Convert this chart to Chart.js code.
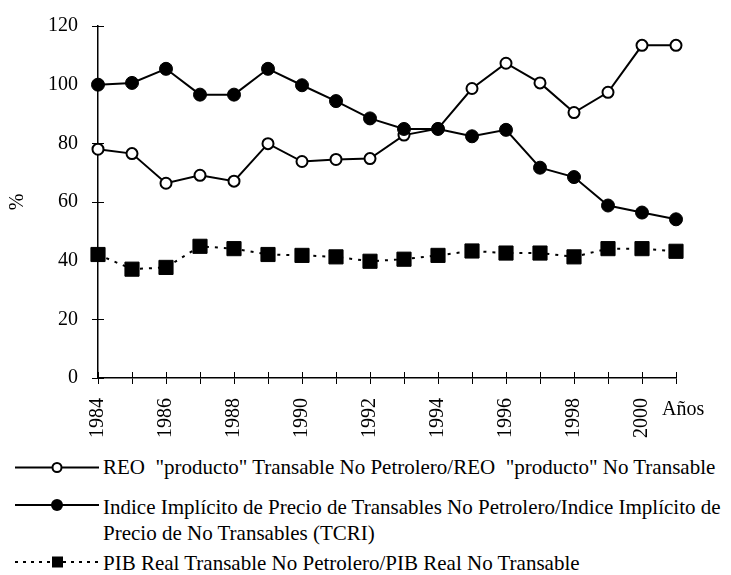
<!DOCTYPE html>
<html><head><meta charset="utf-8">
<script src="https://cdn.jsdelivr.net/npm/chart.js@4"></script>
<style>
body{margin:0;background:#fff;width:731px;height:575px;overflow:hidden;position:relative;font-family:"Liberation Serif","Times New Roman",serif;color:#000}
#wrap{position:absolute;left:0;top:0;width:731px;height:445px}
.leg{position:absolute;left:0;width:731px;font-size:21px;line-height:25.5px;white-space:nowrap}
.leg svg{position:absolute;left:13px;top:0}
.leg .t{position:absolute;left:103px;top:0}
</style></head>
<body>
<div id="wrap"><canvas id="c" width="731" height="445"></canvas></div>
<div id="legend"></div>
<script>
const years = ['1984','1985','1986','1987','1988','1989','1990','1991','1992','1993','1994','1995','1996','1997','1998','1999','2000','2001'];
const reoValues  = [78, 76.5, 66.4, 69.1, 67.1, 79.9, 73.8, 74.5, 74.8, 82.8, 85, 98.7, 107.3, 100.6, 90.5, 97.4, 113.4, 113.4];
const tcriValues = [100, 100.6, 105.4, 96.6, 96.6, 105.4, 99.8, 94.4, 88.5, 84.9, 84.9, 82.4, 84.6, 71.7, 68.5, 58.8, 56.4, 54.1];
const pibValues  = [42.1, 37.1, 37.7, 44.9, 44.1, 42.1, 41.8, 41.3, 39.8, 40.5, 41.8, 43.3, 42.6, 42.6, 41.3, 44.1, 44.1, 43.2];
const yTickValues = [0, 20, 40, 60, 80, 100, 120];
const xTitle = 'Años';
const yTitle = '%';
const seriesNames = [
  'REO&nbsp; "producto" Transable No Petrolero/REO&nbsp; "producto" No Transable',
  'Indice Implícito de Precio de Transables No Petrolero/Indice Implícito de<br>Precio de No Transables (TCRI)',
  'PIB Real Transable No Petrolero/PIB Real No Transable'
];

const FONT = '"Liberation Serif", "Times New Roman", serif';

const extras = {
  id: 'extras',
  afterDraw(chart) {
    const {ctx, scales: {x, y}} = chart;
    ctx.save();
    ctx.strokeStyle = '#000';
    ctx.lineWidth = 1;
    x.ticks.forEach((t, i) => {
      const px = Math.round(x.getPixelForTick(i)) + 0.5;
      ctx.beginPath(); ctx.moveTo(px, x.top); ctx.lineTo(px, x.top - 6); ctx.stroke();
    });
    y.ticks.forEach((t, i) => {
      const py = Math.round(y.getPixelForTick(i)) + 0.5;
      ctx.beginPath(); ctx.moveTo(y.right, py); ctx.lineTo(y.right + 6, py); ctx.stroke();
    });
    ctx.fillStyle = '#000';
    ctx.font = '20px ' + FONT;
    ctx.textBaseline = 'middle';
    ctx.textAlign = 'left';
    ctx.fillText(xTitle, x.right - 14, x.top + 32);
    ctx.restore();
  }
};

new Chart(document.getElementById('c'), {
  type: 'line',
  data: {
    labels: years,
    datasets: [
      {label: 'REO', data: reoValues, borderColor: '#000', borderWidth: 2, pointStyle: 'circle',
       pointRadius: 5.5, pointBorderWidth: 2, pointBackgroundColor: '#fff', pointBorderColor: '#000',
       tension: 0, clip: false, order: 1},
      {label: 'TCRI', data: tcriValues, borderColor: '#000', borderWidth: 2, pointStyle: 'circle',
       pointRadius: 6.5, pointBorderWidth: 1, pointBackgroundColor: '#000', pointBorderColor: '#000',
       tension: 0, clip: false, order: 0},
      {label: 'PIB', data: pibValues, borderColor: '#000', borderWidth: 2, borderDash: [3, 6], pointStyle: 'rect',
       pointRadius: 10, pointBorderWidth: 1, pointBackgroundColor: '#000', pointBorderColor: '#000',
       tension: 0, clip: false, order: 2}
    ]
  },
  options: {
    responsive: false,
    animation: false,
    layout: {padding: {top: 14, right: 55, bottom: 0, left: 0}},
    plugins: {legend: {display: false}, tooltip: {enabled: false}},
    scales: {
      x: {
        grid: {display: true, drawOnChartArea: false, drawTicks: true, tickLength: 6, color: '#000', lineWidth: 1},
        border: {display: true, color: '#000', width: 1.5},
        ticks: {
          autoSkip: false, maxRotation: 90, minRotation: 90, padding: 14, color: '#000',
          font: {family: FONT, size: 20},
          callback: function(v, i) { const l = this.getLabelForValue(v); return (Number(l) % 2 === 0) ? l : ''; }
        },
        afterFit(scale) { scale.height = 67; }
      },
      y: {
        min: 0, max: 120,
        afterBuildTicks(scale) { scale.ticks = yTickValues.map(v => ({value: v})); },
        grid: {display: true, drawOnChartArea: false, drawTicks: true, tickLength: 6, color: '#000', lineWidth: 1},
        border: {display: true, color: '#000', width: 1.5},
        ticks: {padding: 14, color: '#000', font: {family: FONT, size: 20}},
        title: {display: true, text: yTitle, color: '#000', font: {family: FONT, size: 20}, padding: {top: 6, bottom: 0}},
        afterFit(scale) { scale.width = 98; }
      }
    }
  },
  plugins: [extras]
});

// Legend
const legendRows = [
  {top: 455, symY: 12.5, sym: 'open'},
  {top: 495, symY: 10, sym: 'filled'},
  {top: 551, symY: 11, sym: 'square'}
];
const legend = document.getElementById('legend');
legendRows.forEach((r, i) => {
  const d = document.createElement('div');
  d.className = 'leg';
  d.style.top = r.top + 'px';
  const cy = r.symY;
  let svg = '<svg width="90" height="26" viewBox="0 0 90 26">';
  if (r.sym === 'square') {
    svg += '<line x1="2" y1="' + cy + '" x2="86" y2="' + cy + '" stroke="#000" stroke-width="2" stroke-dasharray="3,5"/>';
    svg += '<rect x="39" y="' + (cy - 5.5) + '" width="11" height="11" fill="#000"/>';
  } else {
    svg += '<line x1="2" y1="' + cy + '" x2="86" y2="' + cy + '" stroke="#000" stroke-width="2"/>';
    if (r.sym === 'open') svg += '<circle cx="44" cy="' + cy + '" r="4.5" fill="#fff" stroke="#000" stroke-width="2"/>';
    else svg += '<circle cx="44" cy="' + cy + '" r="6" fill="#000"/>';
  }
  svg += '</svg>';
  d.innerHTML = svg + '<span class="t">' + seriesNames[i] + '</span>';
  legend.appendChild(d);
});
</script>
</body></html>
